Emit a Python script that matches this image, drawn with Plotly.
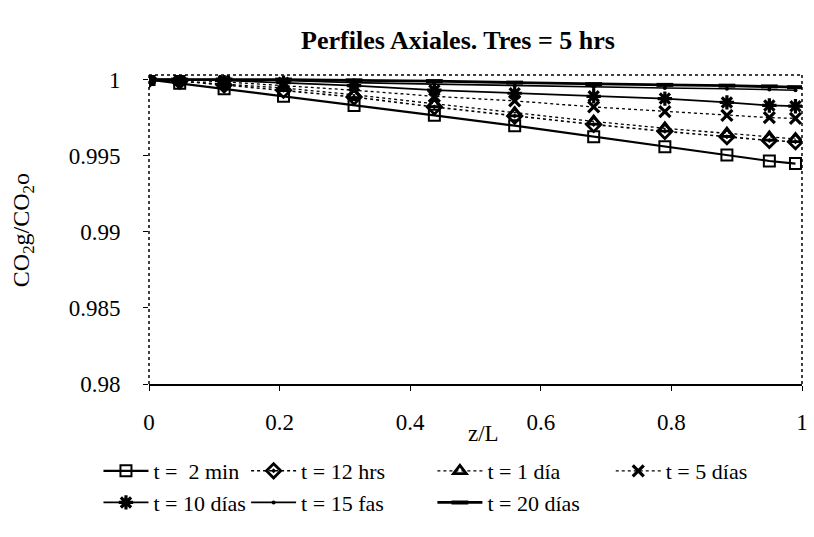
import plotly.graph_objects as go

z = [0, 0.047, 0.115, 0.206, 0.314, 0.437, 0.56, 0.681, 0.79, 0.885, 0.95, 0.99]

t_2min = [1.0, 0.99975, 0.9994, 0.9989, 0.9983, 0.99765, 0.99697, 0.99625, 0.99558, 0.99505, 0.99465, 0.99448]
t_12hrs = [1.0, 0.9999, 0.99965, 0.9993, 0.99885, 0.9982, 0.9976, 0.99705, 0.9966, 0.99625, 0.996, 0.99592]
t_1dia = [1.0, 0.9999, 0.9997, 0.99945, 0.999, 0.9984, 0.9978, 0.99725, 0.9968, 0.99645, 0.9962, 0.9961]
t_5dias = [1.0, 1.0, 0.99985, 0.9996, 0.9993, 0.9989, 0.9986, 0.9982, 0.9979, 0.99765, 0.9975, 0.99745]
t_10dias = [1.0, 1.0, 0.99995, 0.9998, 0.9996, 0.9993, 0.9991, 0.9989, 0.99875, 0.9985, 0.9983, 0.99825]
t_15dias = [1.0, 1.0, 1.0, 0.99995, 0.9998, 0.9997, 0.9996, 0.9995, 0.99945, 0.9994, 0.99935, 0.9993]
t_20dias = [1.0, 1.0, 1.0, 1.0, 0.99995, 0.9999, 0.9998, 0.9997, 0.99965, 0.9996, 0.99955, 0.9995]

names = ["t =  2 min", "t = 12 hrs", "t = 1 día", "t = 5 días", "t = 10 días", "t = 15 fas", "t = 20 días"]

x_ticks = [0, 0.2, 0.4, 0.6, 0.8, 1]
x_ticktext = ["0", "0.2", "0.4", "0.6", "0.8", "1"]
y_ticks = [0.98, 0.985, 0.99, 0.995, 1]
y_ticktext = ["0.98", "0.985", "0.99", "0.995", "1"]

FONT = "Times New Roman"
series = [t_2min, t_12hrs, t_1dia, t_5dias, t_10dias, t_15dias, t_20dias]
styles = [
    dict(line=dict(color="black", width=2.2, dash="solid"),
         marker=dict(symbol="square-open", size=11, color="black", line=dict(width=2, color="black")), legend="legend"),
    dict(line=dict(color="black", width=1.6, dash="dot"),
         marker=dict(symbol="diamond-open-dot", size=11, color="black", line=dict(width=2.8, color="black")), legend="legend2"),
    dict(line=dict(color="black", width=1.3, dash="dot"),
         marker=dict(symbol="triangle-up-open", size=11, color="black", line=dict(width=2.8, color="black")), legend="legend3"),
    dict(line=dict(color="black", width=1.3, dash="dot"),
         marker=dict(symbol="x-thin-open", size=11, color="black", line=dict(width=3.2, color="black")), legend="legend4"),
    dict(line=dict(color="black", width=1.8, dash="solid"),
         marker=dict(symbol="asterisk-open", size=12, color="black", line=dict(width=3.2, color="black")), legend="legend"),
    dict(line=dict(color="black", width=1.6, dash="solid"),
         marker=dict(symbol="circle", size=4, color="black"), legend="legend2"),
    dict(line=dict(color="black", width=2.8, dash="solid"),
         marker=dict(symbol="line-ew-open", size=12, color="black", line=dict(width=4, color="black")), legend="legend3"),
]

fig = go.Figure()
for i, (nm, ys, st) in enumerate(zip(names, series, styles)):
    fig.add_trace(go.Scatter(x=z, y=ys, name=nm, mode="lines+markers",
                             line=st["line"], marker=st["marker"],
                             legend=st["legend"], legendgroup=str(i)))

leg_common = dict(orientation="v", yanchor="top", xanchor="left",
                  font=dict(family=FONT, size=22, color="black"),
                  bgcolor="rgba(0,0,0,0)", tracegroupgap=0, itemwidth=45)
ly = (384 - 450) / 309
fig.update_layout(
    width=814, height=537,
    margin=dict(l=149, r=6, t=75, b=153),
    paper_bgcolor="white", plot_bgcolor="white",
    font=dict(family=FONT, size=20, color="black"),
    title=dict(text="<b>Perfiles Axiales. Tres = 5 hrs</b>", x=(458) / 814, xanchor="center",
               y=1 - 40 / 537, yanchor="middle", font=dict(family=FONT, size=26, color="black")),
    showlegend=True,
    legend=dict(x=(98 - 149) / 659, y=ly, **leg_common),
    legend2=dict(x=(247 - 149) / 659, y=ly, **leg_common),
    legend3=dict(x=(435 - 149) / 659, y=ly, **leg_common),
    legend4=dict(x=(615 - 149) / 659, y=ly, **leg_common),
    xaxis=dict(range=[0, 1], tickvals=x_ticks, ticktext=x_ticktext, showgrid=False, zeroline=False,
               showline=True, linecolor="black", linewidth=2, ticks="outside", ticklen=5,
               tickcolor="black", ticklabelstandoff=11, tickfont=dict(family=FONT, size=23, color="black")),
    yaxis=dict(range=[0.98, 1.0003], tickvals=y_ticks, ticktext=y_ticktext, showgrid=False, zeroline=False,
               showline=False, ticks="outside", ticklen=5, tickcolor="black",
               ticklabelstandoff=18, tickfont=dict(family=FONT, size=23, color="black")),
)

fig.add_shape(type="line", xref="paper", yref="paper", x0=0, x1=0, y0=0, y1=1,
              line=dict(color="black", width=1.5, dash="dot"))
fig.add_shape(type="line", xref="paper", yref="paper", x0=0, x1=1, y0=1, y1=1,
              line=dict(color="black", width=1.5, dash="dot"))
fig.add_shape(type="line", xref="paper", yref="paper", x0=1, x1=1, y0=0, y1=1,
              line=dict(color="black", width=1.5, dash="dot"))

fig.add_annotation(text="z/L", xref="paper", yref="paper", x=(487 - 149) / 659, y=(384 - 433) / 309,
                   showarrow=False, xanchor="center", yanchor="middle",
                   font=dict(family=FONT, size=23, color="black"))
fig.add_annotation(text="CO<sub>2</sub>g/CO<sub>2</sub>o", xref="paper", yref="paper",
                   x=(22 - 149) / 659, y=(384 - 230) / 309, textangle=-90,
                   showarrow=False, xanchor="center", yanchor="middle",
                   font=dict(family=FONT, size=24, color="black"))

fig.write_html("out.html")
